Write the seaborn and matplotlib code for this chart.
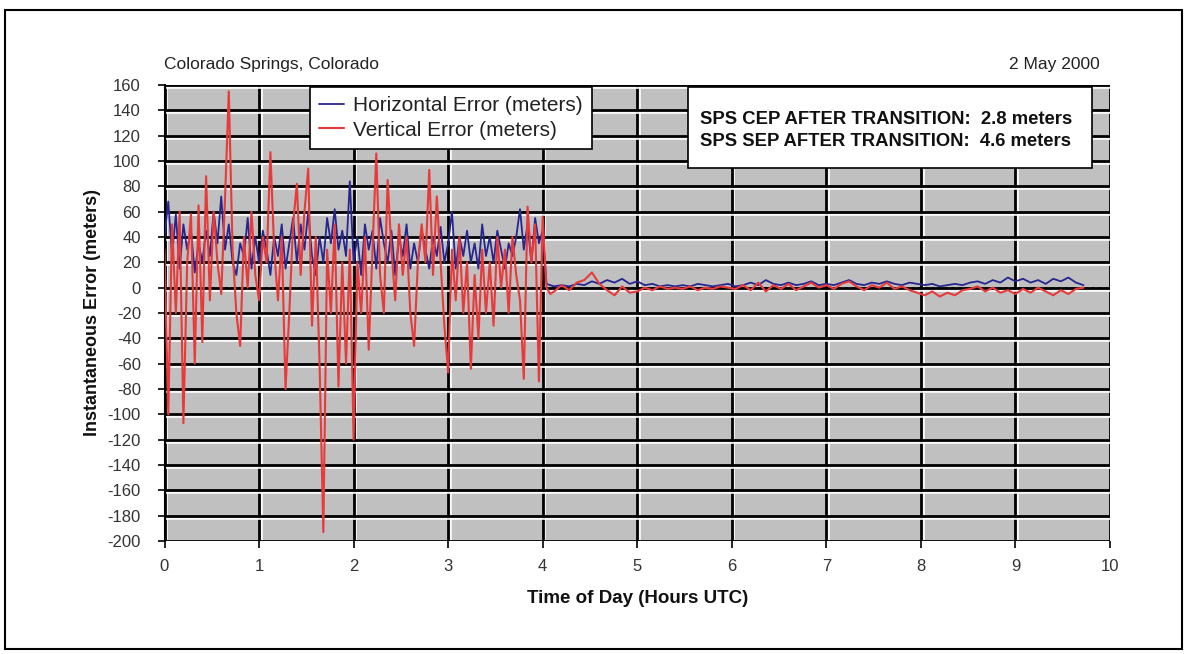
import numpy as np
import pandas as pd
import matplotlib
matplotlib.use("Agg")
import matplotlib.pyplot as plt
import matplotlib.patheffects as pe
from matplotlib.patches import Rectangle
import seaborn as sns

# ---------------- data ----------------
# Selective Availability period: samples every 0.04 h starting at 0.00 h
sa_start = 0.0
sa_step = 0.04
horizontal_sa = [40, 68, 25, 58, 15, 50, 30, 45, 12, 35, 20, 45, 25, 60, 35, 72,
                 30, 50, 20, 10, 35, 25, 55, 15, 40, 20, 45, 30, 10, 40, 25, 50,
                 15, 35, 55, 20, 50, 30, 60, 25, 10, 40, 20, 55, 35, 62, 30, 45,
                 25, 84, 20, 40, 10, 50, 30, 45, 15, 55, 35, 20, 45, 10, 40, 25,
                 50, 15, 35, 20, 45, 30, 15, 40, 25, 48, 20, 35, 60, 15, 40, 25,
                 45, 20, 35, 15, 50, 25, 40, 20, 45, 30, 15, 35, 25, 40, 62, 30,
                 50, 20, 55, 35, 45, 3, 2]
vertical_sa = [30, -100, 50, -20, 60, -107, 20, 58, -60, 65, -43, 88, -10, 60, 20, -5,
               70, 155, 30, -20, -46, 40, 0, 60, 10, -10, 40, 20, 107, 30, -10, 40,
               -80, -20, 50, 82, 10, 60, 94, -30, 40, -60, -193, 30, -20, 50, -78, 20,
               -60, 30, -120, 20, -20, 40, -49, 30, 106, 10, -20, 85, 30, -10, 50, 10,
               40, -20, -46, 20, 50, 20, 93, 10, 72, 20, -30, -67, 30, -10, 40, -20,
               20, -64, 10, -40, 30, -20, 20, -30, 40, 0, 30, -20, 40, 10, -10, -72,
               64, 20, 50, -74, 56, 0, -5]

# After the transition: samples every 0.08 h starting at 4.12 h
post_start = 4.12
post_step = 0.08
horizontal_post = [1, 2, 1, 3, 2, 5, 3, 6, 4, 7, 3, 5, 2, 3, 1, 2, 1, 2, 1, 3, 2, 1, 2, 3,
                   1, 2, 4, 2, 6, 3, 2, 4, 2, 3, 5, 2, 3, 2, 4, 6, 3, 2, 4, 3, 5, 3, 2, 4,
                   3, 2, 3, 1, 2, 3, 2, 4, 5, 3, 6, 4, 8, 5, 7, 4, 6, 3, 7, 5, 8, 4, 2]
vertical_post = [-3, 2, -2, 4, 6, 12, 3, -2, -6, 1, -4, -3, 0, -2, 1, -1, 0, -1, 1, -2, 0, -1,
                 1, 0, -1, 2, -2, 4, -3, 2, -1, 3, -2, 1, 4, 0, 2, -1, 3, 5, 1, -2, 2, 0,
                 4, -1, 1, -2, -4, -6, -3, -7, -4, -6, -2, -1, 1, -3, 0, -4, -2, -5, -1, -4,
                 0, -3, -6, -2, -5, -1, 0]

y_ticks = list(range(-200, 161, 20))
x_ticks = list(range(0, 11))
site_label = "Colorado Springs, Colorado"
date_label = "2 May 2000"
note_lines = ["SPS CEP AFTER TRANSITION:  2.8 meters",
              "SPS SEP AFTER TRANSITION:  4.6 meters"]
series_names = ["Horizontal Error (meters)", "Vertical Error (meters)"]

# ---------------- build table ----------------
t_sa = sa_start + sa_step * np.arange(len(horizontal_sa))
t_post = post_start + post_step * np.arange(len(horizontal_post))
hours = np.concatenate([t_sa, t_post])
df = pd.DataFrame({
    "hours": np.concatenate([hours, hours]),
    "error": np.concatenate([horizontal_sa, horizontal_post, vertical_sa, vertical_post]),
    "series": [series_names[0]] * len(hours) + [series_names[1]] * len(hours),
})

# ---------------- style ----------------
sns.set_style("white")
plt.rcParams["font.family"] = ["Liberation Sans", "DejaVu Sans"]
plt.rcParams["axes.unicode_minus"] = False

W, H = 1190, 654
fig = plt.figure(figsize=(W / 100, H / 100), dpi=100)
L, R, T, B = 164.5, 1110, 85, 541
ax = fig.add_axes([L / W, 1 - B / H, (R - L) / W, (B - T) / H])
ax.set_facecolor("#c0c0c0")

colors = {series_names[0]: "#26268f", series_names[1]: "#e83a3a"}
widths = {series_names[0]: 1.3, series_names[1]: 1.5}
for name in series_names:
    sub = df[df["series"] == name]
    sns.lineplot(data=sub, x="hours", y="error", ax=ax, color=colors[name],
                 lw=widths[name], estimator=None, sort=False, label=name, zorder=3)

ax.axhline(0, color="black", lw=1.2, ls=(0, (1.5, 2.5)), zorder=2)

ax.set_xlim(0, 10)
ax.set_ylim(-200, 160)
ax.set_xticks(x_ticks)
ax.set_yticks(y_ticks)
ax.grid(True, color="black", lw=2)
ax.set_axisbelow(True)
for gl in ax.get_xgridlines() + ax.get_ygridlines():
    gl.set_path_effects([pe.SimpleLineShadow(offset=(1.2, -1.5), shadow_color="white", alpha=0.9),
                         pe.Normal()])

for s in ["top", "right", "bottom"]:
    ax.spines[s].set_visible(False)
ax.spines["left"].set_color("black")
ax.spines["left"].set_linewidth(1.5)
ax.tick_params(axis="both", which="both", direction="out", length=5, width=1.2,
               color="black", labelsize=12, labelcolor="#333333")
ax.tick_params(axis="y", left=True, pad=12)
ax.tick_params(axis="x", bottom=True, pad=8)

ax.set_xlabel("Time of Day (Hours UTC)", fontsize=13.5, fontweight="bold", color="#111111")
ax.set_ylabel("Instantaneous Error (meters)", fontsize=13, fontweight="bold", color="#111111")
ax.xaxis.set_label_coords(0.5, -(590 - B) / (B - T))
ax.yaxis.set_label_coords(-(L - 101) / (R - L), 0.5)

ax.text(0.0, 1 + (T - 65) / (B - T), site_label, transform=ax.transAxes,
        ha="left", va="center", fontsize=12.5, color="#222222")
ax.text((1100 - L) / (R - L), 1 + (T - 65) / (B - T), date_label, transform=ax.transAxes,
        ha="right", va="center", fontsize=12.5, color="#222222")

leg = ax.legend(loc="upper left", bbox_to_anchor=((310 - L) / (R - L), (B - 87) / (B - T)),
                borderaxespad=0, frameon=True, fancybox=False, framealpha=1,
                edgecolor="black", fontsize=15, handlelength=1.2, handletextpad=0.4,
                borderpad=0.45, labelspacing=0.25, labelcolor="#222222")
leg.get_frame().set_linewidth(1.2)
leg.set_zorder(5)

# annotation box
bx0, bx1, by0, by1 = 688, 1092, 87, 168
ax.add_patch(Rectangle(((bx0 - L) / (R - L), (B - by1) / (B - T)),
                       (bx1 - bx0) / (R - L), (by1 - by0) / (B - T),
                       transform=ax.transAxes, facecolor="white", edgecolor="black",
                       lw=1.2, zorder=5, clip_on=False))
for i, line in enumerate(note_lines):
    ax.text((700 - L) / (R - L), (B - (120 + 21 * i)) / (B - T), line, transform=ax.transAxes,
            ha="left", va="center", fontsize=13.3, fontweight="bold", color="#111111", zorder=6)

# outer border
fig.patches.append(Rectangle((5 / W, 1 - 649 / H), (1182 - 5) / W, (649 - 10) / H,
                             transform=fig.transFigure, fill=False, edgecolor="black", lw=1.5))

fig.savefig("out.png", dpi=100)
